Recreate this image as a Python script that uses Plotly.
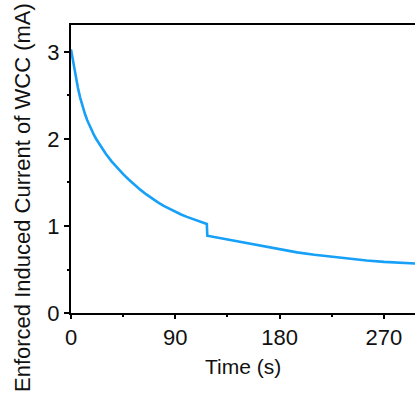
import plotly.graph_objects as go

time_s = [0, 2, 4, 6, 8, 10, 12, 14, 16, 18, 20, 22, 25, 30, 35, 40, 45, 50, 55, 60,
          65, 70, 75, 80, 85, 90, 95, 100, 105, 110, 115, 117.2, 117.6, 120, 130, 140,
          150, 165, 180, 195, 210, 225, 240, 255, 270, 285, 300]
current_mA = [3.03, 2.866, 2.718, 2.586, 2.47, 2.374, 2.29, 2.216, 2.15, 2.092, 2.04,
              1.994, 1.928, 1.83, 1.743, 1.665, 1.595, 1.531, 1.471, 1.415, 1.363, 1.315,
              1.271, 1.231, 1.195, 1.162, 1.132, 1.105, 1.08, 1.056, 1.033, 1.023, 0.888,
              0.882, 0.857, 0.831, 0.806, 0.769, 0.733, 0.697, 0.67, 0.646, 0.622, 0.603,
              0.588, 0.577, 0.567]
x_ticks = [0, 90, 180, 270]
y_ticks = [0, 1, 2, 3]
y_title = "Enforced Induced Current of WCC (mA)"

fig = go.Figure()
fig.add_trace(go.Scatter(x=time_s, y=current_mA, mode="lines",
                         line=dict(color="#16a0f7", width=2.6), showlegend=False))

font = dict(family="Liberation Sans, Arial, sans-serif", size=22, color="#111")
fig.update_layout(
    width=415, height=405,
    margin=dict(l=71, r=0, t=25, b=92),
    paper_bgcolor="white", plot_bgcolor="white",
    font=font,
)
fig.update_xaxes(
    range=[0, 296.8], tickvals=x_ticks, ticks="outside", ticklen=4, tickwidth=2,
    tickcolor="black", showline=True, linecolor="black", linewidth=2, mirror=True,
    showgrid=False, zeroline=False,
    minor=dict(tickvals=[45, 135, 225], ticks="outside", ticklen=2, tickwidth=2,
               tickcolor="black"),
    tickfont=dict(size=22), automargin=False,
)
fig.update_yaxes(
    range=[0, 3.31], tickvals=y_ticks, ticks="outside", ticklen=5, tickwidth=2,
    tickcolor="black", showline=True, linecolor="black", linewidth=2, mirror=False,
    showgrid=False, zeroline=False,
    minor=dict(tickvals=[0.5, 1.5, 2.5], ticks="outside", ticklen=2, tickwidth=2,
               tickcolor="black"),
    tickfont=dict(size=22), automargin=False,
)
fig.add_annotation(text="Time (s)", xref="paper", yref="paper", x=0.5, y=0,
                   yshift=-40, xanchor="center", yanchor="top", showarrow=False,
                   font=dict(size=21, color="#111"))
fig.add_annotation(text=y_title, textangle=-90, xref="paper", yref="paper",
                   x=0, y=(313 - 198) / 288, xshift=-49, xanchor="center",
                   yanchor="middle", showarrow=False,
                   font=dict(size=22, color="#111"))
fig.write_html("out.html")
